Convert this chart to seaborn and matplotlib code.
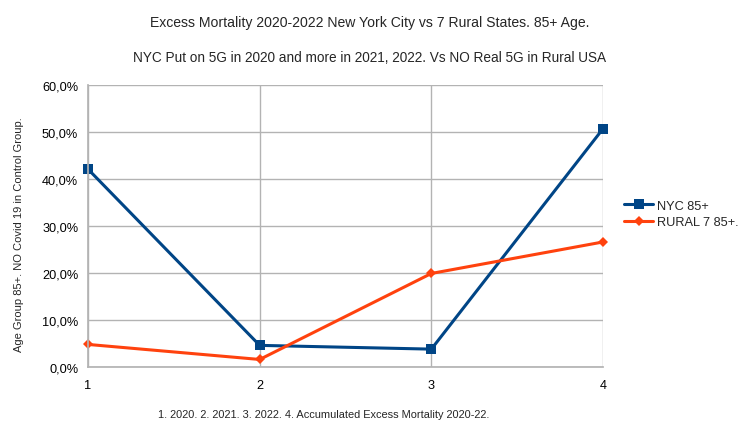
import numpy as np
import pandas as pd
import matplotlib
matplotlib.use("Agg")
import matplotlib.pyplot as plt
import matplotlib.ticker as mticker
import seaborn as sns

# Dados (excesso de mortalidade, %)
periods = [1, 2, 3, 4]
nyc_85 = [42.1, 4.6, 3.8, 50.7]
rural_85 = [4.8, 1.6, 19.9, 26.6]
series_names = ["NYC 85+", "RURAL 7 85+."]

df = pd.DataFrame({
    "Period": periods * 2,
    "Excess": nyc_85 + rural_85,
    "Series": [series_names[0]] * 4 + [series_names[1]] * 4,
})

sns.set_theme(style="white")
plt.rcParams['font.family'] = ['Liberation Sans', 'DejaVu Sans']

fig = plt.figure(figsize=(7.4, 4.31), dpi=100)
ax = fig.add_axes([0.1189, 0.1462, 0.696, 0.6543])

palette = {series_names[0]: "#004586", series_names[1]: "#ff420e"}
markers = {series_names[0]: "s", series_names[1]: "D"}

sns.lineplot(data=df, x="Period", y="Excess", hue="Series", style="Series",
             palette=palette, markers=markers, dashes=False, linewidth=2.2,
             markersize=7.5, markeredgewidth=0, ax=ax)
# diamante menor para a série rural, sem recorte nas bordas
for line in ax.lines:
    line.set_clip_on(False)
    if line.get_marker() == "D":
        line.set_markersize(5.5)

ax.set_xlim(1, 4)
ax.set_ylim(0, 60)
ax.set_xticks(periods)
ax.set_yticks(np.arange(0, 61, 10))
ax.yaxis.set_major_formatter(mticker.FuncFormatter(lambda v, p: f"{v:.1f}%".replace(".", ",")))
ax.grid(True, color="#b3b3b3", linewidth=1)
for s in ["top", "right"]:
    ax.spines[s].set_visible(False)
for s in ["left", "bottom"]:
    ax.spines[s].set_color("#b3b3b3")
ax.tick_params(axis="both", labelsize=9.2, colors="black", length=4, color="#b3b3b3", pad=3)
ax.tick_params(axis="x", pad=5)

ax.set_xlabel("1. 2020. 2. 2021. 3. 2022. 4. Accumulated Excess Mortality 2020-22.", fontsize=7.9)
ax.xaxis.set_label_coords(0.458, -0.149)
ax.set_ylabel("Age Group 85+. NO Covid 19 in Control Group.", fontsize=8.0)
ax.yaxis.set_label_coords(-0.124, 0.472)

fig.text(0.5, 0.947, "Excess Mortality 2020-2022 New York City vs 7 Rural States. 85+ Age.",
         ha="center", va="center", fontsize=10.1)
fig.text(0.5, 0.865, "NYC Put on 5G in 2020 and more in 2021, 2022. Vs NO Real 5G in Rural USA",
         ha="center", va="center", fontsize=9.8)

leg = ax.legend(loc="center left", bbox_to_anchor=(624 / 740, 1 - 215 / 431),
                bbox_transform=fig.transFigure, frameon=False,
                fontsize=9.2, handlelength=2.3, handletextpad=0.25, borderaxespad=0,
                borderpad=0, labelspacing=0.35)

fig.savefig("out.png", dpi=100)
